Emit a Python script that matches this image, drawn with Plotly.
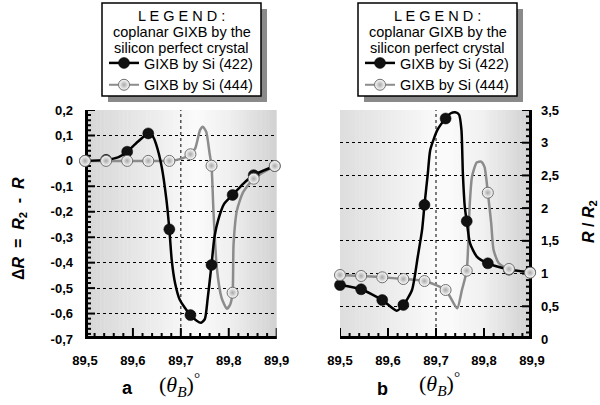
import plotly.graph_objects as go

# ---------------- data ----------------
theta_pts = [89.500, 89.544, 89.588, 89.632, 89.676, 89.720, 89.764, 89.808, 89.852, 89.896]

# panel a : Delta R = R2 - R
dR_422_pts = [0.000, 0.004, 0.036, 0.108, -0.269, -0.606, -0.409, -0.134, -0.056, -0.020]
dR_444_pts = [0.000, 0.000, 0.000, 0.000, 0.000, 0.026, -0.019, -0.518, -0.070, -0.020]

dR_422_curve_x = [89.500, 89.544, 89.570, 89.588, 89.610, 89.632, 89.642, 89.649, 89.660, 89.670,
                  89.676, 89.681, 89.688, 89.698, 89.720, 89.733, 89.742, 89.750, 89.756, 89.764,
                  89.770, 89.778, 89.790, 89.808, 89.830, 89.852, 89.896]
dR_422_curve_y = [0.000, 0.004, 0.015, 0.036, 0.075, 0.108, 0.095, 0.062, -0.023, -0.154,
                  -0.269, -0.390, -0.481, -0.547, -0.606, -0.628, -0.636, -0.622, -0.540, -0.409,
                  -0.300, -0.232, -0.170, -0.134, -0.090, -0.056, -0.020]

dR_444_curve_x = [89.500, 89.544, 89.588, 89.632, 89.676, 89.700, 89.720, 89.730, 89.740, 89.746,
                  89.753, 89.760, 89.764, 89.768, 89.775, 89.785, 89.796, 89.803, 89.808, 89.810,
                  89.817, 89.830, 89.852, 89.896]
dR_444_curve_y = [0.000, 0.000, 0.000, 0.000, 0.000, 0.008, 0.026, 0.049, 0.121, 0.134,
                  0.114, 0.029, -0.019, -0.195, -0.419, -0.538, -0.581, -0.564, -0.518, -0.327,
                  -0.195, -0.123, -0.070, -0.020]

# panel b : R / R2
ratio_422_pts = [0.825, 0.760, 0.596, 0.520, 2.050, 3.370, 1.800, 1.157, 1.060, 1.020]
ratio_444_pts = [0.978, 0.963, 0.943, 0.917, 0.886, 0.749, 1.044, 2.236, 1.070, 1.013]

ratio_422_curve_x = [89.500, 89.544, 89.588, 89.618, 89.632, 89.650, 89.662, 89.671, 89.676, 89.683,
                     89.688, 89.703, 89.720, 89.731, 89.740, 89.748, 89.753, 89.756, 89.760, 89.764,
                     89.771, 89.785, 89.808, 89.852, 89.896]
ratio_422_curve_y = [0.825, 0.760, 0.596, 0.433, 0.520, 0.749, 1.258, 1.667, 2.050, 2.530,
                     2.890, 3.196, 3.370, 3.450, 3.465, 3.430, 3.196, 2.530, 2.020, 1.800,
                     1.460, 1.260, 1.157, 1.060, 1.020]

ratio_444_curve_x = [89.500, 89.544, 89.588, 89.632, 89.676, 89.720, 89.744, 89.754, 89.764, 89.770,
                     89.775, 89.785, 89.794, 89.801, 89.808, 89.815, 89.820, 89.831, 89.852, 89.896]
ratio_444_curve_y = [0.978, 0.963, 0.943, 0.917, 0.886, 0.749, 0.469, 0.749, 1.044, 2.020,
                     2.480, 2.700, 2.710, 2.630, 2.236, 1.770, 1.360, 1.157, 1.070, 1.013]

x_tickvals = [89.5, 89.6, 89.7, 89.8, 89.9]
x_ticktext = ["89,5", "89,6", "89,7", "89,8", "89,9"]
ya_tickvals = [0.2, 0.1, 0.0, -0.1, -0.2, -0.3, -0.4, -0.5, -0.6, -0.7]
ya_ticktext = ["0,2", "0,1", "0", "-0,1", "-0,2", "-0,3", "-0,4", "-0,5", "-0,6", "-0,7"]
yb_tickvals = [0, 0.5, 1, 1.5, 2, 2.5, 3, 3.5]
yb_ticktext = ["0", "0,5", "1", "1,5", "2", "2,5", "3", "3,5"]

series_names = ["GIXB by Si (422)", "GIXB by Si (444)"]
legend_title_lines = ["L E G E N D :", "coplanar GIXB by the", "silicon perfect crystal"]

# ---------------- layout geometry ----------------
W, H = 600, 405
L, R, T, B = 85, 68, 110, 66
PW, PH = W - L - R, H - T - B


def px_x(p):
    return (p - L) / PW


def px_y(p):
    return (H - B - p) / PH


dom_a = [0.0, px_x(276.7)]
dom_b = [px_x(340), 1.0]
XR = [89.5, 89.9]
YRA = [-0.7, 0.2]
YRB = [0.0, 3.5]

FONT = "Liberation Sans, Arial, Helvetica, sans-serif"
SERIF = "Liberation Serif, DejaVu Serif, serif"
BLACK_LINE = dict(color="black", width=2.5)
GRAY_LINE = dict(color="#8c8c8c", width=2.5)
BLACK_MARK = dict(color="#111111", size=11, line=dict(width=0.5, color="black"))
WHITE_MARK = dict(color="#ffffff", size=11, line=dict(width=1, color="#6e6e6e"),
                  gradient=dict(type="radial", color="#a8a8a8"))

fig = go.Figure()

# ---------------- axis frame and tick marks, drawn through the axes' own scales ----------------
hx = (XR[1] - XR[0]) / (dom_a[1] * PW)   # one pixel in x units
hya = (YRA[1] - YRA[0]) / PH             # one pixel in panel-a y units
hyb = (YRB[1] - YRB[0]) / PH             # one pixel in panel-b y units
x_minor = [round(89.5 + 0.02 * k, 2) for k in range(21)]
ya_minor = [round(-0.7 + 0.02 * k, 2) for k in range(46)]
yb_minor = [round(0.1 * k, 1) for k in range(36)]


def is_major(v, majors):
    return any(abs(v - t) < 1e-9 for t in majors)


def tick_segments(panel):
    xs, ys = [], []
    if panel == "a":
        for v in x_minor:
            n = 11 if is_major(v, x_tickvals) else 6
            xs += [v, v, None]
            ys += [YRA[0], YRA[0] + n * hya, None]
        for v in ya_minor:
            n = 10 if is_major(v, ya_tickvals) else 6
            xs += [XR[0], XR[0] + n * hx, None]
            ys += [v, v, None]
    else:
        for v in x_minor:
            n = 11 if is_major(v, x_tickvals) else 6
            xs += [v, v, None]
            ys += [YRB[0], YRB[0] + n * hyb, None]
        for v in yb_minor:
            n = 10 if is_major(v, yb_tickvals) else 6
            xs += [XR[1] - n * hx, XR[1], None]
            ys += [v, v, None]
    return xs, ys


for panel, xa, ya, fx, fy in (("a", "x", "y", [XR[0], XR[0], XR[1]], [YRA[1], YRA[0], YRA[0]]),
                              ("b", "x2", "y2", [XR[0], XR[1], XR[1]], [YRB[0], YRB[0], YRB[1]])):
    tx, ty = tick_segments(panel)
    fig.add_trace(go.Scatter(x=tx, y=ty, mode="lines", line=dict(color="black", width=2),
                             showlegend=False, hoverinfo="skip", xaxis=xa, yaxis=ya))
    fig.add_trace(go.Scatter(x=fx, y=fy, mode="lines", line=dict(color="black", width=6),
                             showlegend=False, hoverinfo="skip", xaxis=xa, yaxis=ya))

# ---------------- curves ----------------
fig.add_trace(go.Scatter(x=dR_444_curve_x, y=dR_444_curve_y, mode="lines", line=GRAY_LINE,
                         line_shape="spline", line_smoothing=0.6, showlegend=False,
                         xaxis="x", yaxis="y", hoverinfo="skip"))
fig.add_trace(go.Scatter(x=dR_422_curve_x, y=dR_422_curve_y, mode="lines", line=BLACK_LINE,
                         line_shape="spline", line_smoothing=0.6, showlegend=False,
                         xaxis="x", yaxis="y", hoverinfo="skip"))
fig.add_trace(go.Scatter(x=ratio_444_curve_x, y=ratio_444_curve_y, mode="lines", line=GRAY_LINE,
                         line_shape="spline", line_smoothing=0.6, showlegend=False,
                         xaxis="x2", yaxis="y2", hoverinfo="skip"))
fig.add_trace(go.Scatter(x=ratio_422_curve_x, y=ratio_422_curve_y, mode="lines", line=BLACK_LINE,
                         line_shape="spline", line_smoothing=0.6, showlegend=False,
                         xaxis="x2", yaxis="y2", hoverinfo="skip"))

# ---------------- markers ----------------
fig.add_trace(go.Scatter(x=theta_pts, y=dR_422_pts, mode="markers", marker=BLACK_MARK,
                         cliponaxis=False, showlegend=False, xaxis="x", yaxis="y"))
fig.add_trace(go.Scatter(x=theta_pts, y=dR_444_pts, mode="markers", marker=WHITE_MARK,
                         cliponaxis=False, showlegend=False, xaxis="x", yaxis="y"))
fig.add_trace(go.Scatter(x=theta_pts, y=ratio_422_pts, mode="markers", marker=BLACK_MARK,
                         cliponaxis=False, showlegend=False, xaxis="x2", yaxis="y2"))
fig.add_trace(go.Scatter(x=theta_pts, y=ratio_444_pts, mode="markers", marker=WHITE_MARK,
                         cliponaxis=False, showlegend=False, xaxis="x2", yaxis="y2"))

# legend entries (line + marker samples)
for lg, xa, ya in (("legend", "x", "y"), ("legend2", "x2", "y2")):
    fig.add_trace(go.Scatter(x=[None], y=[None], mode="lines+markers", name=series_names[0],
                             line=BLACK_LINE, marker=BLACK_MARK, legend=lg, xaxis=xa, yaxis=ya))
    fig.add_trace(go.Scatter(x=[None], y=[None], mode="lines+markers", name=series_names[1],
                             line=dict(color="#8c8c8c", width=2), marker=WHITE_MARK,
                             legend=lg, xaxis=xa, yaxis=ya))

# ---------------- background gradients (paper-referenced stripes) ----------------
def gray_at(f, stops):
    for (f0, g0), (f1, g1) in zip(stops[:-1], stops[1:]):
        if f0 <= f <= f1:
            g = g0 + (g1 - g0) * (f - f0) / (f1 - f0)
            return f"rgb({int(g)},{int(g)},{int(g)})"
    return f"rgb({stops[-1][1]},{stops[-1][1]},{stops[-1][1]})"


stops_a = [(0.0, 214), (0.5, 246), (0.58, 251), (0.75, 240), (1.0, 210)]
stops_b = [(0.0, 222), (0.5, 250), (0.56, 251), (0.75, 240), (1.0, 208)]
shapes = []
N = 50
for dom, stops in ((dom_a, stops_a), (dom_b, stops_b)):
    span = dom[1] - dom[0]
    for i in range(N):
        f0, f1 = i / N, (i + 1) / N
        shapes.append(dict(type="rect", xref="paper", yref="paper",
                           x0=dom[0] + span * f0, x1=dom[0] + span * min(f1 + 0.002, 1.0),
                           y0=0, y1=1, fillcolor=gray_at((f0 + f1) / 2, stops),
                           line=dict(width=0), layer="below"))

# dotted vertical reference at 89.7
for xref, yref, yr in (("x", "y", YRA), ("x2", "y2", YRB)):
    shapes.append(dict(type="line", xref=xref, yref=yref, x0=89.7, x1=89.7, y0=yr[0], y1=yr[1],
                       line=dict(color="black", width=1, dash="dot"), layer="below"))

# legend frames with shadow
for bx0, bx1 in ((102, 261), (358, 517)):
    shapes.append(dict(type="rect", xref="paper", yref="paper",
                       x0=px_x(bx0 + 6), x1=px_x(bx1 + 6), y0=px_y(102), y1=px_y(9),
                       fillcolor="#8a8a8a", line=dict(width=0), layer="above"))
    shapes.append(dict(type="rect", xref="paper", yref="paper",
                       x0=px_x(bx0), x1=px_x(bx1), y0=px_y(96), y1=px_y(3),
                       fillcolor="white", line=dict(color="black", width=1.5), layer="above"))

# ---------------- axes ----------------
tickfont = dict(family=FONT, size=13, color="black", weight="bold")
xaxis_common = dict(range=XR, tickmode="array", tickvals=x_tickvals, ticktext=x_ticktext,
                    showline=False, ticks="", showgrid=False, zeroline=False,
                    tickfont=tickfont, ticklabelstandoff=12)

fig.update_layout(
    width=W, height=H, autosize=False,
    margin=dict(l=L, r=R, t=T, b=B),
    paper_bgcolor="white", plot_bgcolor="white",
    font=dict(family=FONT, color="black"),
    xaxis=dict(domain=dom_a, anchor="y", **xaxis_common),
    xaxis2=dict(domain=dom_b, anchor="y2", **xaxis_common),
    yaxis=dict(domain=[0, 1], anchor="x", range=YRA, tickmode="array",
               tickvals=ya_tickvals, ticktext=ya_ticktext, showline=False, ticks="",
               showgrid=True, gridcolor="black", gridwidth=1, griddash="dot", zeroline=False,
               tickfont=tickfont, ticklabelstandoff=11),
    yaxis2=dict(domain=[0, 1], anchor="x2", side="right", range=YRB, tickmode="array",
                tickvals=yb_tickvals, ticktext=yb_ticktext, showline=False, ticks="",
                showgrid=True, gridcolor="black", gridwidth=1, griddash="dot", zeroline=False,
                tickfont=tickfont, ticklabelstandoff=8),
    shapes=shapes,
)

legend_style = dict(bgcolor="rgba(0,0,0,0)", borderwidth=0, xanchor="left", yanchor="top",
                    font=dict(family=FONT, size=14.5, color="black"),
                    itemclick=False, itemdoubleclick=False, tracegroupgap=0)
fig.update_layout(
    legend=dict(x=px_x(104), y=px_y(47), **legend_style),
    legend2=dict(x=px_x(360), y=px_y(47), **legend_style),
)

# ---------------- annotations ----------------
theta_txt = "(<i>θ</i><sub><i>B</i></sub>)<sup>°</sup>"
ann = [
    dict(text="<b>a</b>", x=px_x(127), y=px_y(388), font=dict(family=FONT, size=18)),
    dict(text=theta_txt, x=px_x(179), y=px_y(384), font=dict(family=SERIF, size=22)),
    dict(text="<b>b</b>", x=px_x(382), y=px_y(389), font=dict(family=FONT, size=18)),
    dict(text=theta_txt, x=px_x(439), y=px_y(383), font=dict(family=SERIF, size=22)),
    dict(text="<b>Δ<i>R</i>  =  <i>R</i><sub>2</sub>  -  <i>R</i></b>", x=px_x(19), y=px_y(229),
         textangle=-90, font=dict(family=FONT, size=16)),
    dict(text="<b><i>R</i> / <i>R</i><sub>2</sub></b>", x=px_x(589), y=px_y(222),
         textangle=-90, font=dict(family=FONT, size=16)),
]
for cx in (181.5, 437.5):
    for k, line in enumerate(legend_title_lines):
        ann.append(dict(text=line, x=px_x(cx), y=px_y(15.5 + 16.3 * k),
                        font=dict(family=FONT, size=14.5)))
for a in ann:
    a.update(xref="paper", yref="paper", showarrow=False, xanchor="center", yanchor="middle")
fig.update_layout(annotations=ann)

fig.write_html("out.html", config={"displayModeBar": False},
               post_script="document.body.style.margin='0px';")
